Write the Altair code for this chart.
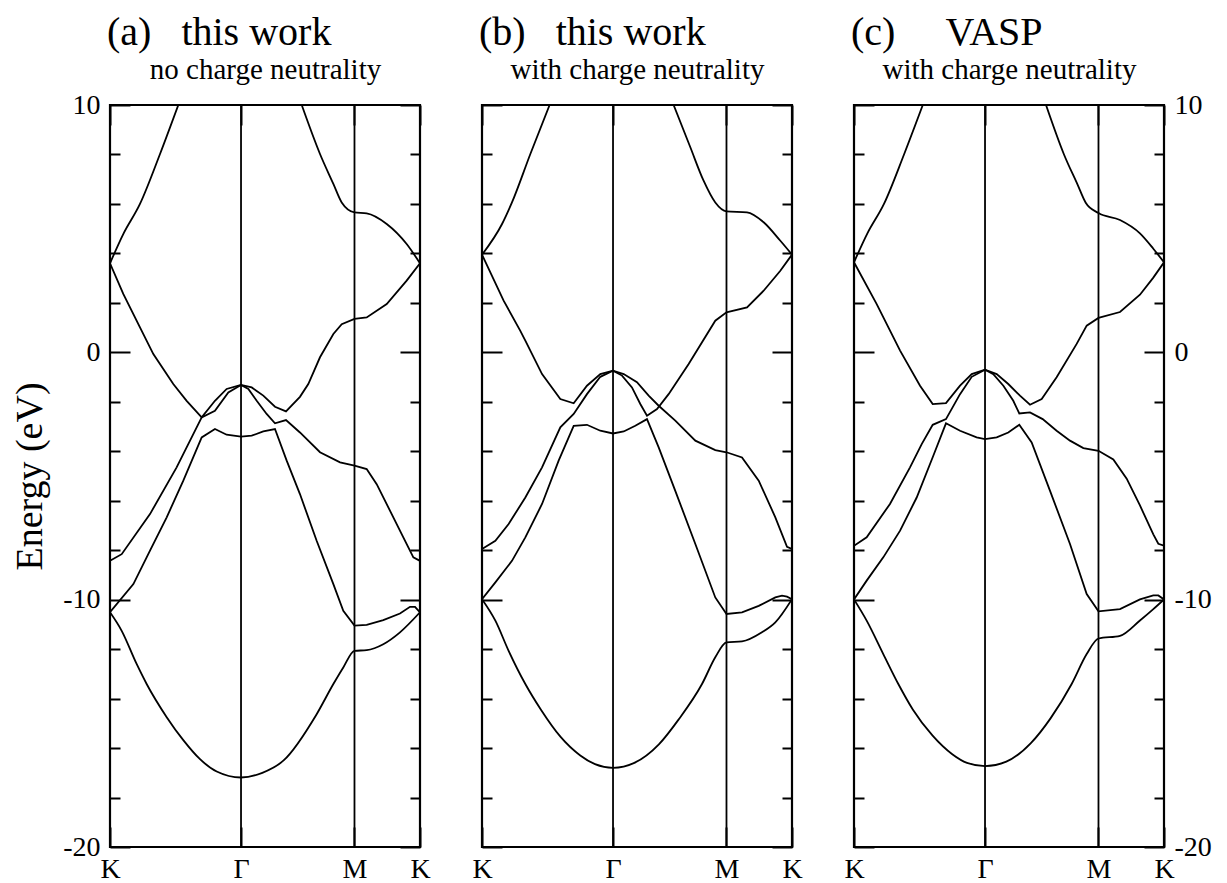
import altair as alt
import pandas as pd

# ---------------- k-path and axis values ----------------
K0, G, M, K1 = 0.0, 1.3333, 2.4880, 3.1547
X_TICKS = [K0, G, M, K1]
X_LABELS = ["K", "Γ", "M", "K"]
Y_MAJOR = [-20, -10, 0, 10]
Y_MINOR = [-18, -16, -14, -12, -8, -6, -4, -2, 2, 4, 6, 8]
Y_DOMAIN = [-20, 10]
SYMMETRY_LINES = [G, M]

TITLES = ["(a)\u00a0\u00a0\u00a0this work",
          "(b)\u00a0\u00a0\u00a0this work",
          "(c)\u00a0\u00a0\u00a0\u00a0\u00a0VASP"]
SUBTITLES = ["no charge neutrality", "with charge neutrality", "with charge neutrality"]
Y_TITLE = "Energy (eV)"

# ---------------- panel (a): this work, no charge neutrality ----------------
A_B1 = [(0.0, -10.51), (0.119, -11.26), (0.271, -12.60), (0.373, -13.41), (0.577, -14.75),
        (0.746, -15.68), (0.916, -16.45), (1.086, -16.95), (1.333, -17.19), (1.55, -17.0),
        (1.764, -16.51), (2.103, -14.63), (2.273, -13.41), (2.374, -12.74), (2.488, -12.07),
        (2.612, -12.04), (2.781, -11.80), (2.951, -11.32), (3.1547, -10.51)]
A_B2 = [(0.0, -10.51), (0.238, -9.37), (0.407, -8.02), (0.577, -6.67), (0.746, -5.19),
        (0.933, -3.44), (1.068, -3.10), (1.187, -3.33), (1.333, -3.41), (1.442, -3.37),
        (1.560, -3.20), (1.679, -3.10), (1.798, -4.38), (1.933, -5.73), (2.103, -7.62),
        (2.273, -9.37), (2.374, -10.45), (2.488, -11.05), (2.612, -11.02), (2.781, -10.83),
        (2.951, -10.56), (3.053, -10.29), (3.104, -10.29), (3.1547, -10.51)]
A_B3 = [(0.0, -8.43), (0.119, -8.16), (0.407, -6.54), (0.678, -4.65), (0.933, -2.63),
        (1.068, -2.36), (1.204, -1.62), (1.333, -1.32), (1.408, -1.48), (1.493, -1.96),
        (1.594, -2.49), (1.679, -2.87), (1.791, -2.74), (1.933, -3.24), (2.137, -4.04),
        (2.341, -4.45), (2.488, -4.58), (2.612, -4.72), (2.714, -5.33), (2.849, -6.40),
        (2.985, -7.48), (3.087, -8.29), (3.1547, -8.43)]
A_B4 = [(0.0, 3.60), (0.135, 2.36), (0.305, 1.01), (0.441, -0.07), (0.644, -1.28),
        (0.780, -1.96), (0.933, -2.63), (1.068, -1.96), (1.187, -1.48), (1.333, -1.32),
        (1.442, -1.42), (1.560, -1.75), (1.679, -2.20), (1.791, -2.39), (1.933, -1.80),
        (2.018, -1.28), (2.137, -0.20), (2.273, 0.74), (2.358, 1.14), (2.488, 1.35),
        (2.612, 1.41), (2.816, 1.95), (3.019, 2.90), (3.1547, 3.60)]
A_U1 = [(0.0, 3.60), (0.135, 4.78), (0.305, 6.00), (0.509, 8.02), (0.695, 10.0)]
A_U2 = [(1.951, 10.0), (2.137, 8.02), (2.273, 6.81), (2.358, 6.06), (2.488, 5.66),
        (2.612, 5.62), (2.816, 5.19), (3.019, 4.38), (3.1547, 3.60)]

# ---------------- panel (b): this work, with charge neutrality ----------------
B_B1 = [(0.0, -9.98), (0.136, -10.85), (0.271, -12.07), (0.441, -13.41), (0.6, -14.45),
        (0.8, -15.55), (1.0, -16.30), (1.15, -16.65), (1.333, -16.80), (1.55, -16.60),
        (1.8, -15.85), (2.0, -14.85), (2.239, -13.41), (2.374, -12.33), (2.488, -11.73),
        (2.646, -11.69), (2.849, -11.32), (2.985, -10.92), (3.1547, -9.98)]
B_B2 = [(0.0, -9.98), (0.136, -9.30), (0.305, -8.43), (0.441, -7.48), (0.611, -6.13),
        (0.780, -4.38), (0.933, -2.97), (1.068, -2.93), (1.204, -3.17), (1.333, -3.28),
        (1.442, -3.20), (1.560, -2.97), (1.679, -2.70), (1.798, -3.84), (1.967, -5.60),
        (2.171, -7.75), (2.374, -9.91), (2.488, -10.58), (2.646, -10.51), (2.816, -10.25),
        (2.985, -9.91), (3.053, -9.84), (3.104, -9.88), (3.1547, -9.98)]
B_B3 = [(0.0, -7.95), (0.136, -7.62), (0.271, -6.94), (0.441, -5.87), (0.611, -4.65),
        (0.797, -3.03), (0.933, -2.49), (1.068, -1.69), (1.204, -0.99), (1.333, -0.74),
        (1.442, -0.88), (1.577, -1.21), (1.696, -1.75), (1.798, -2.16), (1.967, -2.76),
        (2.171, -3.57), (2.374, -3.95), (2.488, -4.04), (2.646, -4.25), (2.816, -5.19),
        (2.985, -6.67), (3.104, -7.86), (3.1547, -7.95)]
B_B4 = [(0.0, 3.95), (0.220, 2.09), (0.390, 0.87), (0.441, 0.47), (0.611, -0.88),
        (0.797, -1.89), (0.933, -2.06), (1.068, -1.35), (1.204, -0.88), (1.333, -0.74),
        (1.425, -0.94), (1.526, -1.42), (1.611, -2.09), (1.679, -2.56), (1.781, -2.29),
        (1.899, -1.69), (2.103, -0.47), (2.374, 1.28), (2.488, 1.62), (2.697, 1.82),
        (2.866, 2.49), (3.036, 3.30), (3.1547, 3.95)]
B_U1 = [(0.0, 3.95), (0.204, 5.19), (0.305, 6.06), (0.492, 8.02), (0.688, 10.0)]
B_U2 = [(1.950, 10.0), (2.120, 8.29), (2.255, 6.94), (2.374, 6.06), (2.488, 5.70),
        (2.697, 5.66), (2.866, 5.26), (3.036, 4.51), (3.1547, 3.95)]

# ---------------- panel (c): VASP, with charge neutrality ----------------
C_B1 = [(0.0, -9.99), (0.129, -10.85), (0.298, -12.20), (0.451, -13.41), (0.6, -14.45),
        (0.8, -15.50), (1.0, -16.25), (1.15, -16.60), (1.333, -16.73), (1.55, -16.55),
        (1.8, -15.80), (2.0, -14.80), (2.215, -13.41), (2.368, -12.20), (2.488, -11.57),
        (2.707, -11.46), (2.910, -10.84), (3.046, -10.38), (3.1547, -9.99)]
C_B2 = [(0.0, -9.99), (0.129, -9.23), (0.298, -8.29), (0.469, -7.21), (0.638, -5.87),
        (0.807, -4.18), (0.936, -2.87), (1.079, -3.17), (1.248, -3.44), (1.333, -3.51),
        (1.452, -3.44), (1.570, -3.24), (1.682, -2.93), (1.808, -3.64), (1.995, -5.60),
        (2.198, -7.75), (2.368, -9.77), (2.488, -10.47), (2.707, -10.38), (2.910, -9.99),
        (3.046, -9.83), (3.097, -9.83), (3.1547, -9.99)]
C_B3 = [(0.0, -7.82), (0.129, -7.48), (0.366, -6.13), (0.570, -4.65), (0.689, -3.71),
        (0.801, -2.93), (0.936, -2.70), (1.079, -1.69), (1.198, -0.99), (1.333, -0.70),
        (1.418, -0.88), (1.520, -1.35), (1.621, -1.96), (1.682, -2.47), (1.791, -2.43),
        (1.920, -2.70), (2.062, -3.17), (2.198, -3.57), (2.334, -3.87), (2.488, -3.98),
        (2.639, -4.33), (2.775, -5.11), (2.910, -6.19), (3.046, -7.36), (3.097, -7.74),
        (3.1547, -7.82)]
C_B4 = [(0.0, 3.64), (0.231, 1.95), (0.469, 0.07), (0.672, -1.35), (0.801, -2.09),
        (0.936, -2.05), (1.079, -1.35), (1.198, -0.88), (1.333, -0.70), (1.452, -0.88),
        (1.570, -1.28), (1.689, -1.75), (1.791, -2.12), (1.910, -1.89), (2.062, -1.01),
        (2.266, 0.34), (2.368, 1.08), (2.488, 1.39), (2.707, 1.63), (2.910, 2.33),
        (3.046, 3.02), (3.1547, 3.64)]
C_U1 = [(0.0, 3.64), (0.135, 4.80), (0.305, 6.00), (0.509, 8.00), (0.700, 10.0)]
C_U2 = [(1.954, 10.0), (2.137, 8.00), (2.273, 6.80), (2.358, 6.05), (2.488, 5.63),
        (2.707, 5.35), (2.910, 4.81), (3.046, 4.19), (3.1547, 3.64)]

FONT = "Liberation Serif"
PANEL_W, PANEL_H = 310, 742
SMOOTH_BANDS = ["b1", "u1", "u2"]


def band_frame(bands):
    rows = []
    for name, pts in bands.items():
        for i, (k, e) in enumerate(pts):
            rows.append({"band": name, "i": i, "k": k, "E": e})
    return pd.DataFrame(rows)


def x_label_expr():
    parts = []
    for j in range(len(X_TICKS) - 1):
        mid = (X_TICKS[j] + X_TICKS[j + 1]) / 2
        parts.append(f"datum.value < {mid:.4f} ? '{X_LABELS[j]}' : ")
    return "".join(parts) + f"'{X_LABELS[-1]}'"


Y_LABEL_EXPR = "datum.value < 0 ? '-' + format(-datum.value, 'd') : format(datum.value, 'd')"
SMOOTH_TEST = "indexof(" + str(SMOOTH_BANDS) + ", datum.band)"


def panel(bands, title, subtitle, left_labels, right_labels, show_ytitle):
    df = band_frame(bands)
    xs = alt.Scale(domain=[X_TICKS[0], X_TICKS[-1]], nice=False, zero=False)
    ys = alt.Scale(domain=Y_DOMAIN, nice=False, zero=False)
    base = alt.Chart(df)

    ytitle_kw = dict(title=Y_TITLE, titleFontSize=38, titlePadding=13) if show_ytitle else dict(title=None)

    kinked = base.transform_filter(SMOOTH_TEST + " < 0")
    smooth = base.transform_filter(SMOOTH_TEST + " >= 0")

    lines = kinked.mark_line(color="black", strokeWidth=1.8, clip=True).encode(
        x=alt.X("k:Q", scale=xs, axis=alt.Axis(
            orient="bottom", values=X_TICKS, tickSize=20, offset=-20,
            labelExpr=x_label_expr(), labelFlush=False, labelOverlap=False,
            labelFontSize=28, labelPadding=8, title=None)),
        y=alt.Y("E:Q", scale=ys, axis=alt.Axis(
            orient="left", values=Y_MAJOR, tickSize=20, offset=-20,
            labels=left_labels, labelFontSize=28, labelPadding=10,
            labelExpr=Y_LABEL_EXPR, labelBaseline="middle", **ytitle_kw)),
        detail="band:N", order="i:Q",
    )
    smooth_lines = smooth.mark_line(color="black", strokeWidth=1.8, clip=True,
                                    interpolate="monotone").encode(
        x=alt.X("k:Q", scale=xs, axis=None),
        y=alt.Y("E:Q", scale=ys, axis=None),
        detail="band:N", order="i:Q",
    )
    minor_left = base.mark_line(opacity=0).encode(
        x=alt.X("k:Q", scale=xs, axis=alt.Axis(
            orient="top", values=X_TICKS, tickSize=20, offset=-20, labels=False,
            title=subtitle, titleFontSize=29, titlePadding=20)),
        y=alt.Y("E:Q", scale=ys, axis=alt.Axis(
            orient="left", values=Y_MINOR, tickSize=10, offset=-10, labels=False, title=None)),
        detail="band:N",
    )
    major_right = base.mark_line(opacity=0).encode(
        x=alt.X("k:Q", scale=xs, axis=None),
        y=alt.Y("E:Q", scale=ys, axis=alt.Axis(
            orient="right", values=Y_MAJOR, tickSize=20, offset=-20,
            labels=right_labels, labelFontSize=28, labelPadding=10,
            labelExpr=Y_LABEL_EXPR, labelAlign="left", labelBaseline="middle", title=None)),
        detail="band:N",
    )
    minor_right = base.mark_line(opacity=0).encode(
        x=alt.X("k:Q", scale=xs, axis=None),
        y=alt.Y("E:Q", scale=ys, axis=alt.Axis(
            orient="right", values=Y_MINOR, tickSize=10, offset=-10, labels=False, title=None)),
        detail="band:N",
    )
    vlines = alt.Chart(pd.DataFrame({"k": SYMMETRY_LINES})).mark_rule(
        color="black", strokeWidth=1.8).encode(x=alt.X("k:Q", scale=xs, axis=None))

    return alt.layer(lines, smooth_lines, minor_left, major_right, minor_right, vlines).resolve_axis(
        x="independent", y="independent"
    ).properties(
        width=PANEL_W, height=PANEL_H,
        title=alt.TitleParams(text=title, anchor="start", frame="group", fontSize=40,
                              font=FONT, fontWeight="normal", color="black", dx=-3, offset=2),
    )


pa = panel({"b1": A_B1, "b2": A_B2, "b3": A_B3, "b4": A_B4, "u1": A_U1, "u2": A_U2},
           TITLES[0], SUBTITLES[0], True, False, True)
pb = panel({"b1": B_B1, "b2": B_B2, "b3": B_B3, "b4": B_B4, "u1": B_U1, "u2": B_U2},
           TITLES[1], SUBTITLES[1], False, False, False)
pc = panel({"b1": C_B1, "b2": C_B2, "b3": C_B3, "b4": C_B4, "u1": C_U1, "u2": C_U2},
           TITLES[2], SUBTITLES[2], False, True, False)

chart = alt.hconcat(pa, pb, pc, spacing=62, bounds="flush").properties(
    padding={"left": 2, "top": 3, "right": 2, "bottom": 0}
).configure_view(
    stroke="black", strokeWidth=2.2
).configure_axis(
    domain=False, grid=False, tickColor="black", tickWidth=2,
    labelColor="black", titleColor="black", labelFont=FONT, titleFont=FONT,
    titleFontWeight="normal",
)

chart.save("out.html", embed_options={"renderer": "svg", "actions": False})
